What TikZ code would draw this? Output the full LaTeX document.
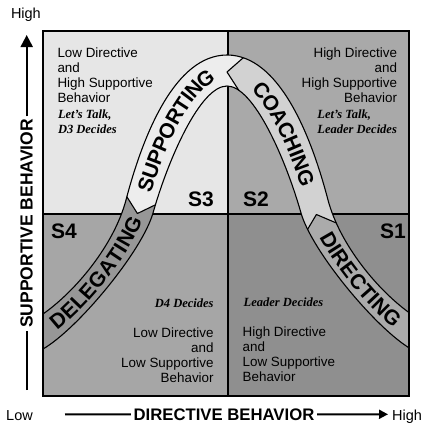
\documentclass[tikz,border=0pt]{standalone}
\usepackage{fontspec}
\setmainfont{Liberation Sans}
\newfontfamily\decfont{Liberation Serif}
\usetikzlibrary{arrows.meta,decorations.text}

\definecolor{qtl}{HTML}{E6E6E6}
\definecolor{qtr}{HTML}{A9A9A9}
\definecolor{qbl}{HTML}{A6A6A6}
\definecolor{qbr}{HTML}{8F8F8F}
\definecolor{supfill}{HTML}{EDEDED}
\definecolor{coafill}{HTML}{D2D2D2}
\definecolor{dirfill}{HTML}{ABABAB}
\definecolor{delfill}{HTML}{979797}

\newcommand\bandfont{\fontsize{21}{21}\selectfont\bfseries}
\def\bandpath{(43,314) .. controls (75.8,291) and (114,245) .. (126,200)
  .. controls (143,135) and (175,55) .. (227,55)
  .. controls (279,55) and (311,135) .. (328,200)
  .. controls (340,245) and (378.2,291) .. (411,314)
  -- (411,349)
  .. controls (376.4,329) and (312,251.5) .. (301,213)
  .. controls (286,160) and (254,86) .. (227,86)
  .. controls (200,86) and (168,160) .. (153,213)
  .. controls (142,251.5) and (77.6,329) .. (43,349) -- cycle}

\begin{document}
\begin{tikzpicture}[x=1pt,y=-1pt,
		bandline/.style={line width=1.1pt,line join=round},
		axisline/.style={line width=2pt},
		body/.style={font=\fontsize{13.4}{15}\selectfont,inner sep=0pt},
		decides/.style={font=\decfont\bfseries\itshape\fontsize{12.5}{14.5}\selectfont,inner sep=0pt},
		slabel/.style={font=\fontsize{21}{21}\selectfont\bfseries,inner sep=0pt},
		axislabel/.style={font=\fontsize{14.5}{14.5}\selectfont,inner sep=0pt,anchor=base west},
		axistitle/.style={font=\bfseries\fontsize{#1}{#1}\selectfont,inner xsep=2.5pt,inner ysep=0pt},
		bandtext/.style={decorate,decoration={text along path,text align=center,raise=-7.5pt,text={|\bandfont|#1}}}]
	\useasboundingbox (0,0) rectangle (428,429);
	% quadrants
	\fill[qtl] (43,31) rectangle (228,214);
	\fill[qtr] (228,31) rectangle (409,214);
	\fill[qbl] (43,214) rectangle (228,396);
	\fill[qbr] (228,214) rectangle (409,396);
	\draw[line width=2pt] (228,31) -- (228,396);
	\draw[line width=2pt] (43,214) -- (409,214);
	% chevrons where one style hands over to the next
	\coordinate (sd-o) at (120.8,187.1);
	\coordinate (sd-t) at (137.4,213.5);
	\coordinate (sd-i) at (165.6,199.9);
	\coordinate (cs-o) at (252.6,49.6);
	\coordinate (cs-t) at (227,72);
	\coordinate (cs-i) at (244.6,99.2);
	\coordinate (dc-i) at (299.8,242.5);
	\coordinate (dc-t) at (316.4,214.5);
	\coordinate (dc-o) at (344.6,226.5);
	\begin{scope}
		\clip (43,31) rectangle (409,396);
		\fill[dirfill] \bandpath;
		\begin{scope}
			\clip \bandpath;
			\fill[delfill] (sd-o) -- (sd-t) -- (sd-i) -- (200,200) -- (200,429) -- (0,429) -- (0,187.1) -- cycle;
			\fill[supfill] (0,187.1) -- (sd-o) -- (sd-t) -- (sd-i) -- (cs-i) -- (cs-t) -- (cs-o) -- (252.6,0) -- (0,0) -- cycle;
			\fill[coafill] (252.6,0) -- (cs-o) -- (cs-t) -- (cs-i) -- (dc-i) -- (dc-t) -- (dc-o) -- (428,226.5) -- (428,0) -- cycle;
			\draw[bandline] (sd-o) -- (sd-t) -- (sd-i);
			\draw[bandline] (cs-o) -- (cs-t) -- (cs-i);
			\draw[bandline] (dc-i) -- (dc-t) -- (dc-o);
		\end{scope}
		\draw[bandline] \bandpath;
	\end{scope}
	\draw[line width=2.6pt] (43,31) rectangle (409,396);
	% words along the band
	\path[bandtext=DELEGATING] (43,331.5) .. controls (76.7,310) and (128,248) .. (139.5,206.5);
	\path[bandtext=SUPPORTING] (139.5,206.5) .. controls (155.5,147.5) and (187.5,70.5) .. (227,70.5);
	\path[bandtext=COACHING] (238.6,72.7) .. controls (272.7,85.7) and (300.1,153.4) .. (314.5,206.5);
	\path[bandtext=DIRECTING] (319.1,219.5) .. controls (336.1,260) and (380.7,312.2) .. (411,331.5);
	% quadrant texts
	\node[body,anchor=north west,align=left] (tl-txt) at (57.3,47.7) {Low Directive\\and\\High Supportive\\Behavior};
	\node[decides,anchor=north west,align=left] (tl-dec) at (57.8,109.8) {Let’s Talk,\\D3 Decides};
	\node[body,anchor=north east,align=right] (tr-txt) at (397.2,47.7) {High Directive\\and\\High Supportive\\Behavior};
	\node[decides,anchor=north west,align=left] (tr-dec) at (317.2,109.8) {Let’s Talk,\\Leader Decides};
	\node[decides,anchor=base east] (bl-dec) at (213.8,307) {D4 Decides};
	\node[body,anchor=north east,align=right] (bl-txt) at (213.8,327.4) {Low Directive\\and\\Low Supportive\\Behavior};
	\node[decides,anchor=base west] (br-dec) at (243.5,306.3) {Leader Decides};
	\node[body,anchor=north west,align=left] (br-txt) at (242.5,326.7) {High Directive\\and\\Low Supportive\\Behavior};
	\node[slabel,anchor=base east] (s3) at (214,206) {S3};
	\node[slabel,anchor=base west] (s2) at (243,206) {S2};
	\node[slabel,anchor=base west] (s4) at (51,238) {S4};
	\node[slabel,anchor=base west] (s1) at (380,238) {S1};
	% axes
	\node[axislabel] (y-high) at (10.8,18) {High};
	\node[axislabel] (x-low) at (6,420) {Low};
	\node[axislabel] (x-high) at (392,420) {High};
	\node[axistitle=17.5,rotate=90] (y-title) at (26.7,223.5) {SUPPORTIVE BEHAVIOR};
	\node[axistitle=16.7,anchor=base] (x-title) at (224,420) {DIRECTIVE BEHAVIOR};
	\coordinate (y-bot) at (26.7,390);
	\coordinate (y-top) at (26.7,35);
	\coordinate (x-left) at (65,414.3);
	\coordinate (x-right) at (388,414.3);
	\draw[axisline] (y-bot) -- (y-title.west);
	\draw[axisline,-{Triangle[length=12pt,width=12pt]}] (y-title.east) -- (y-top);
	\draw[axisline] (x-left) -- (x-title.west);
	\draw[axisline,-{Triangle[length=9pt,width=9pt]}] (x-title.east) -- (x-right);
\end{tikzpicture}
\end{document}
